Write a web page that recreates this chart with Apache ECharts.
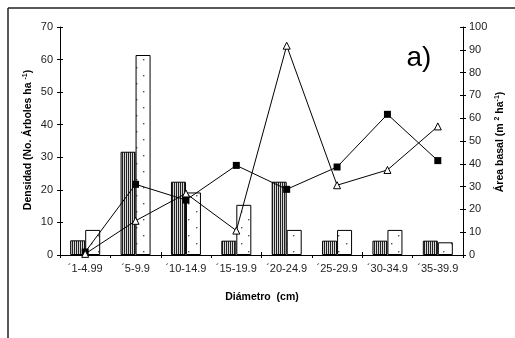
<!DOCTYPE html>
<html><head><meta charset="utf-8">
<script src="https://cdn.jsdelivr.net/npm/echarts@6/dist/echarts.min.js"></script>
<style>html,body{margin:0;padding:0;background:#fff}#c{width:515px;height:338px}</style>
</head><body><div id="c"></div>
<script>
var categories = ['´1-4.99','´5-9.9','´10-14.9','´15-19.9','´20-24.9','´25-29.9','´30-34.9','´35-39.9'];
var densityStriped = [4.5, 31.7, 22.5, 4.4, 22.5, 4.4, 4.4, 4.4];
var densityDotted = [7.7, 61.4, 19.2, 15.4, 7.7, 7.7, 7.7, 3.9];
var basalSquares = [1.3, 31, 24.1, 39.3, 28.8, 38.6, 61.7, 41.4];
var basalTriangles = [0.5, 15, 27, 10.7, 91.8, 30.6, 37.3, 56.4];
var leftTicks = {min: 0, max: 70, interval: 10};
var rightTicks = {min: 0, max: 100, interval: 10};

function makeStripe(){
  var c = document.createElement('canvas'); c.width = 2; c.height = 4;
  var g = c.getContext('2d');
  g.fillStyle = '#d8d8d8'; g.fillRect(0,0,2,4);
  g.fillStyle = '#222'; g.fillRect(0,0,1,4);
  return c;
}
function makeDots(){
  var c = document.createElement('canvas'); c.width = 15; c.height = 16;
  var g = c.getContext('2d');
  g.fillStyle = '#fff'; g.fillRect(0,0,15,16);
  g.fillStyle = '#555';
  g.fillRect(1,3,1.4,1.4);
  g.fillRect(8,11,1.4,1.4);
  return c;
}
var font = 'Liberation Sans, Arial, sans-serif';
var chart = echarts.init(document.getElementById('c'), null, {renderer:'canvas'});
var axisLine = {show:true, lineStyle:{color:'#000', width:1}};
var lbl = {color:'#222', fontSize:11, fontFamily:font};
chart.setOption({
  animation:false,
  grid:{left:60, right:52, top:27, bottom:83},
  xAxis:[
    {type:'category', data:categories, boundaryGap:true, axisLine:axisLine,
     axisTick:{show:true, length:3, alignWithLabel:false, lineStyle:{color:'#000'}},
     axisLabel:Object.assign({margin:8, interval:0}, lbl)},
    {type:'category', data:categories, position:'bottom', boundaryGap:true, axisLine:{show:false},
     axisTick:{show:true, inside:true, length:3, lineStyle:{color:'#000'}}, axisLabel:{show:false}}
  ],
  yAxis:[
    {type:'value', min:leftTicks.min, max:leftTicks.max, interval:leftTicks.interval, position:'left',
     axisLine:axisLine, axisTick:{show:true, length:3, lineStyle:{color:'#000'}},
     splitLine:{show:false}, axisLabel:Object.assign({margin:7}, lbl)},
    {type:'value', min:rightTicks.min, max:rightTicks.max, interval:rightTicks.interval, position:'right',
     axisLine:axisLine, axisTick:{show:true, length:3, lineStyle:{color:'#000'}},
     splitLine:{show:false}, axisLabel:Object.assign({margin:6}, lbl)},
    {type:'value', min:leftTicks.min, max:leftTicks.max, interval:leftTicks.interval, position:'left',
     axisLine:{show:false}, axisTick:{show:true, inside:true, length:3, lineStyle:{color:'#000'}},
     splitLine:{show:false}, axisLabel:{show:false}},
    {type:'value', min:rightTicks.min, max:rightTicks.max, interval:rightTicks.interval, position:'right',
     axisLine:{show:false}, axisTick:{show:true, inside:true, length:3, lineStyle:{color:'#000'}},
     splitLine:{show:false}, axisLabel:{show:false}}
  ],
  series:[
    {type:'bar', data:densityStriped, yAxisIndex:0, barWidth:15, barGap:'0%',
     itemStyle:{color:{image:makeStripe(), repeat:'repeat'}, borderColor:'#000', borderWidth:1}},
    {type:'bar', data:densityDotted, yAxisIndex:0, barWidth:15, barGap:'0%',
     itemStyle:{color:{image:makeDots(), repeat:'repeat'}, borderColor:'#000', borderWidth:1}},
    {type:'line', data:basalSquares, yAxisIndex:1, symbol:'rect', symbolSize:7,
     lineStyle:{color:'#000', width:1}, itemStyle:{color:'#000', borderColor:'#000', borderWidth:0}, z:5},
    {type:'line', data:basalTriangles, yAxisIndex:1, symbol:'triangle', symbolSize:7, showAllSymbol:true,
     lineStyle:{color:'#000', width:1}, itemStyle:{color:'#fff', borderColor:'#000', borderWidth:1}, z:6}
  ],
  graphic:[
    {type:'line', shape:{x1:8, y1:8, x2:515, y2:8}, style:{stroke:'#222', lineWidth:1.5}},
    {type:'line', shape:{x1:8, y1:8, x2:8, y2:338}, style:{stroke:'#222', lineWidth:1.5}},
    {type:'text', x:419, y:58, style:{text:'a)', font:'28px ' + font, fill:'#000', align:'center', verticalAlign:'middle'}},
    {type:'text', x:262, y:297, style:{text:'Diámetro  (cm)', font:'bold 10.5px ' + font, fill:'#000', align:'center', verticalAlign:'middle'}},
    {type:'text', x:28, y:140, rotation:Math.PI/2,
     style:{text:'{n|Densidad (No. Árboles ha }{s|-1}{n|)}', align:'center', verticalAlign:'middle',
       rich:{n:{font:'bold 10.5px ' + font, fill:'#000'}, s:{font:'bold 7px ' + font, fill:'#000', verticalAlign:'top', padding:[0,0,5,0]}}}},
    {type:'text', x:500, y:142, rotation:Math.PI/2,
     style:{text:'{n|Área basal (m }{s|2}{n| ha}{s|-1}{n|)}', align:'center', verticalAlign:'middle',
       rich:{n:{font:'bold 10.5px ' + font, fill:'#000'}, s:{font:'bold 7px ' + font, fill:'#000', verticalAlign:'top', padding:[0,0,5,0]}}}}
  ]
});
</script></body></html>
